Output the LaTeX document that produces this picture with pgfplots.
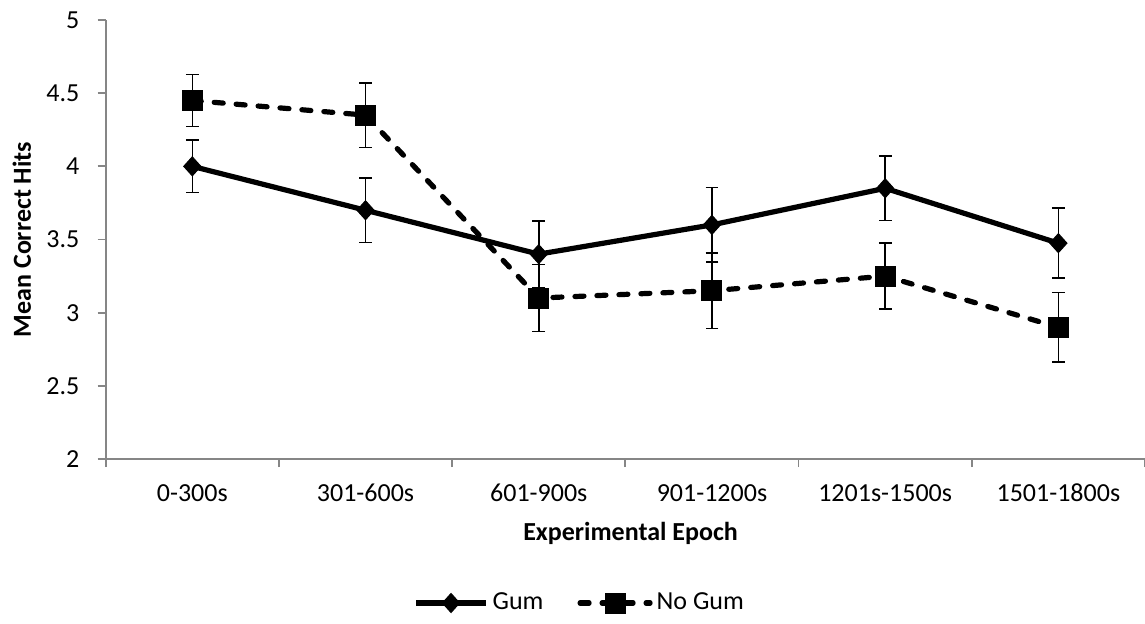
\documentclass[border=0pt]{standalone}
\usepackage{fontspec}
\setmainfont{Carlito}
\usepackage{pgfplots}
\pgfplotsset{compat=1.18}
\definecolor{axisgray}{RGB}{134,134,134}
\newcommand{\chartfont}{\fontsize{13}{15}\selectfont}
\begin{document}
\begin{tikzpicture}
\useasboundingbox (-52.85pt,-82pt) rectangle (519.65pt,229.5pt);
\begin{axis}[
  scale only axis, width=519.65pt, height=219.5pt,
  at={(0,0)}, anchor=south west,
  clip=false,
  xmin=-0.5, xmax=5.5, ymin=2, ymax=5,
  axis x line*=bottom, axis y line*=left,
  axis line style={-, draw=axisgray, line width=0.9pt},
  xtick={-0.5,0.5,1.5,2.5,3.5,4.5,5.5},
  x tick label as interval,
  xticklabels={0-300s,301-600s,601-900s,901-1200s,1201s-1500s,1501-1800s},
  ytick={2,2.5,3,3.5,4,4.5,5},
  tick align=outside,
  major tick length=4pt,
  tick style={draw=axisgray, line width=0.9pt},
  /pgf/number format/assume math mode=true,
  tick label style={font=\chartfont, black},
  xticklabel style={anchor=base, yshift=-17.35pt},
  yticklabel style={anchor=east, inner sep=0pt},
  yticklabel shift=9pt,
  xlabel={\bfseries Experimental Epoch},
  ylabel={\bfseries Mean Correct Hits},
  label style={font=\chartfont},
  xlabel style={at={(axis description cs:0.505,-0.1861)}, anchor=base},
  ylabel style={at={(axis description cs:-0.0720,0.5)}, anchor=base},
  legend style={draw=none, at={(0.457,-0.328)}, anchor=center,
    font=\chartfont, legend columns=-1,
    /tikz/every even column/.append style={column sep=15pt},
    nodes={inner sep=2pt}},
  legend image code/.code={\draw[mark repeat=2,mark phase=2,#1] plot coordinates {(0pt,0pt) (17.5pt,0pt) (35pt,0pt)};},
]
\addplot[black, line width=2.6pt, mark=diamond*,
  mark size=4.75pt, mark options={solid, xscale=1.2, line width=0.5pt, fill=black},
  error bars/.cd, y dir=both, y explicit,
  error bar style={line width=0.8pt, solid, black},
  error mark options={rotate=90, mark size=3.2pt, line width=0.8pt, black, solid}]
  table[x=x, y=y, y error=e] {
x y e
0 4.00 0.178
1 3.70 0.22
2 3.40 0.227
3 3.60 0.255
4 3.85 0.22
5 3.475 0.24
};
\addlegendentry{Gum}
\addplot[black, line width=2.6pt, dash pattern=on 4.5pt off 6.5pt, line cap=round, mark=square*,
  mark size=5pt, mark options={solid, line width=0.5pt, fill=black},
  error bars/.cd, y dir=both, y explicit,
  error bar style={line width=0.8pt, solid, black, line cap=butt},
  error mark options={rotate=90, mark size=3.2pt, line width=0.8pt, black, solid}]
  table[x=x, y=y, y error=e] {
x y e
0 4.45 0.178
1 4.35 0.22
2 3.10 0.228
3 3.15 0.257
4 3.25 0.225
5 2.90 0.237
};
\addlegendentry{No Gum}
\end{axis}
\end{tikzpicture}
\end{document}
